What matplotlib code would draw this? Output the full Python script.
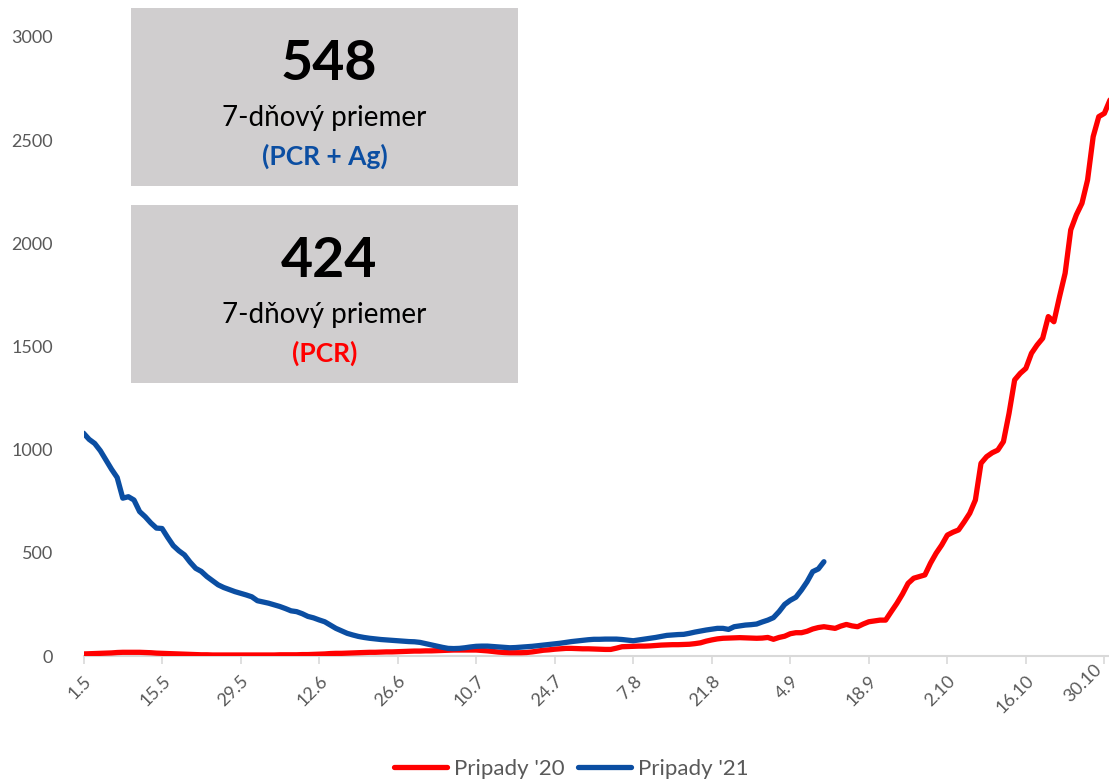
import matplotlib
matplotlib.use("Agg")
import matplotlib.pyplot as plt
from matplotlib.patches import Rectangle

# ---- data (7-day averages, daily from 1.5) ----
cases_2020 = [10, 11, 12, 13, 14, 15, 17, 18, 18, 18, 18, 17, 16, 14, 13, 12, 11, 10, 9, 8,
              7, 6, 6, 5, 5, 5, 5, 5, 5, 5, 5, 5, 5, 5, 5, 6, 6, 6, 6, 7,
              7, 8, 9, 10, 12, 13, 13, 14, 15, 16, 17, 18, 18, 19, 20, 20, 21, 22, 23, 24,
              24, 25, 25, 26, 27, 28, 29, 29, 29, 29, 29, 27, 25, 22, 19, 17, 16, 16, 16, 17,
              20, 24, 28, 30, 33, 35, 37, 37, 36, 35, 35, 34, 33, 32, 32, 38, 45, 46, 47, 48,
              48, 49, 51, 53, 54, 55, 55, 56, 57, 60, 64, 72, 78, 83, 86, 87, 88, 89, 88, 87,
              86, 87, 90, 81, 90, 96, 108, 113, 113, 120, 131, 138, 142, 138, 134, 145, 153, 146, 142, 155,
              166, 170, 174, 174, 215, 255, 300, 352, 377, 385, 393, 450, 498, 538, 586, 600, 611, 650, 692, 756,
              934, 966, 985, 998, 1039, 1176, 1338, 1370, 1394, 1467, 1507, 1540, 1645, 1620, 1741, 1855, 2065, 2138, 2194, 2307,
              2517, 2614, 2630, 2695]
cases_2021 = [1080, 1050, 1030, 995, 950, 905, 865, 765, 772, 756, 700, 675, 645, 620, 618, 575, 535, 510, 490, 455,
              425, 410, 385, 365, 345, 332, 322, 312, 304, 296, 287, 268, 262, 256, 248, 240, 230, 219, 215, 205,
              192, 185, 175, 166, 150, 134, 122, 110, 102, 95, 90, 86, 83, 80, 78, 76, 74, 72, 70, 69,
              66, 60, 54, 48, 42, 37, 36, 37, 40, 44, 47, 48, 48, 46, 44, 42, 40, 41, 43, 45,
              47, 50, 53, 56, 59, 62, 66, 70, 73, 76, 79, 81, 81, 82, 82, 82, 80, 77, 74, 78,
              82, 86, 90, 95, 100, 102, 104, 105, 110, 116, 121, 126, 130, 134, 134, 129, 142, 146, 150, 152,
              155, 165, 174, 186, 215, 250, 270, 285, 320, 360, 409, 422, 457]
tick_labels = ["1.5", "15.5", "29.5", "12.6", "26.6", "10.7", "24.7", "7.8", "21.8",
               "4.9", "18.9", "2.10", "16.10", "30.10"]
series_names = ["Pripady '20", "Pripady '21"]
big_numbers = ["548", "424"]
box_sub = "7-dňový priemer"
box_tags = ["(PCR + Ag)", "(PCR)"]

RED = "#ff0000"
BLUE = "#0b4ea2"
GRAY = "#595959"

plt.rcParams['font.family'] = ['Lato', 'DejaVu Sans']

fig = plt.figure(figsize=(11.09, 7.82), dpi=100)
ax = fig.add_axes([0.0753, 0.1611, 0.9256, 0.7916])

ax.plot(range(len(cases_2020)), cases_2020, color=RED, lw=3.8, label=series_names[0],
        solid_capstyle='round', solid_joinstyle='round', zorder=3)
ax.plot(range(len(cases_2021)), cases_2021, color=BLUE, lw=3.8, label=series_names[1],
        solid_capstyle='round', solid_joinstyle='round', zorder=4)

ax.set_xlim(0, 183)
ax.set_ylim(0, 3000)
ax.set_yticks([0, 500, 1000, 1500, 2000, 2500, 3000])
ax.set_xticks(range(0, 14 * len(tick_labels), 14))
ax.set_xticklabels(tick_labels, rotation=45, ha='right', rotation_mode='anchor')
# keep the last label inside the figure
ax.get_xticklabels()[-1].set_verticalalignment('bottom')

for s in ["top", "right", "left"]:
    ax.spines[s].set_visible(False)
ax.spines["bottom"].set_color("#d9d9d9")
ax.spines["bottom"].set_linewidth(1.5)
ax.tick_params(axis='x', colors="#d9d9d9", length=6, width=1.2, labelcolor=GRAY,
               labelsize=13, pad=6)
ax.tick_params(axis='y', length=0, labelcolor=GRAY, labelsize=13, pad=22)
ax.set_facecolor("none")

# info boxes
box_x, box_w, box_h = 0.1181, 0.349, 0.2276
box_bottoms = [0.7621, 0.5102]
tag_colors = [BLUE, RED]
cx = box_x + box_w / 2
for i, b in enumerate(box_bottoms):
    fig.add_artist(Rectangle((box_x, b), box_w, box_h, transform=fig.transFigure,
                             facecolor="#d0cecf", edgecolor="none", zorder=5))
    fig.text(cx + 0.004, b + box_h - 0.071, big_numbers[i], ha='center', va='center',
             fontsize=40, fontweight='bold', color='black', zorder=6)
    fig.text(cx, b + box_h - 0.140, box_sub, ha='center', va='center',
             fontsize=20, color='black', zorder=6)
    fig.text(cx, b + box_h - 0.189, box_tags[i], ha='center', va='center',
             fontsize=19, fontweight='bold', color=tag_colors[i], zorder=6)

leg = fig.legend(loc='center', bbox_to_anchor=(0.515, 0.017), ncol=2, frameon=False,
                 fontsize=16, handlelength=2.4, columnspacing=0.6, handletextpad=0.3)
for t in leg.get_texts():
    t.set_color(GRAY)

fig.savefig("out.png", dpi=100)
